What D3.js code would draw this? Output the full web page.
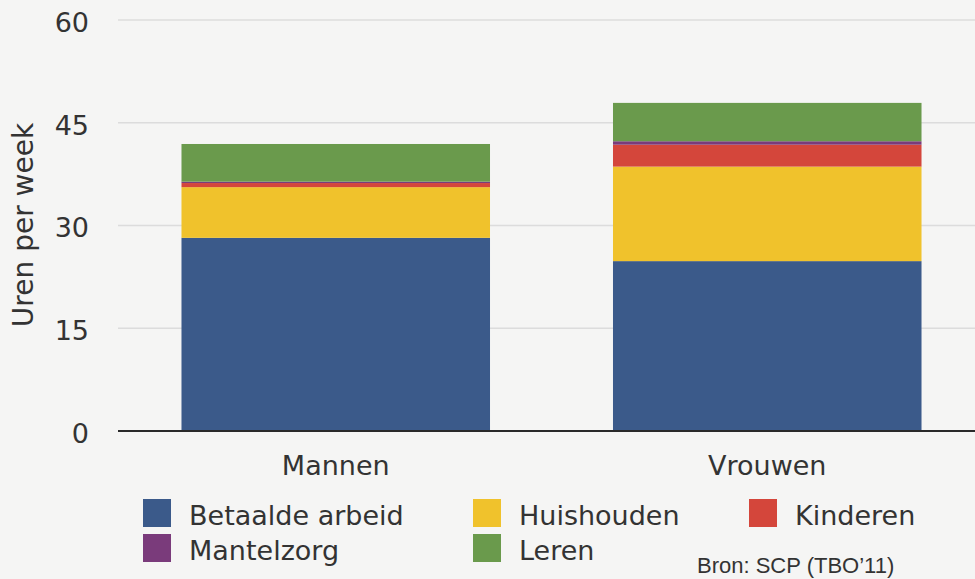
<!DOCTYPE html>
<html><head><meta charset="utf-8">
<script src="https://cdn.jsdelivr.net/npm/d3@7"></script>
<style>
html,body{margin:0;padding:0;background:#f5f5f4;}
svg{display:block;}
</style></head>
<body>
<svg id="chart" width="975" height="579"></svg>
<script>
const categories = ["Mannen", "Vrouwen"];
const seriesNames = ["Betaalde arbeid", "Huishouden", "Kinderen", "Mantelzorg", "Leren"];
const betaaldeArbeid = [28.2, 24.8];
const huishouden = [7.4, 13.8];
const kinderen = [0.6, 3.2];
const mantelzorg = [0.2, 0.5];
const leren = [5.5, 5.6];
const seriesColors = ["#3b5a8a", "#f0c22c", "#d4463b", "#7a3b7b", "#6a9a4c"];
const yTicks = [0, 15, 30, 45, 60];
const yTitle = "Uren per week";
const source = "Bron: SCP (TBO\u201911)";

const seriesValues = [betaaldeArbeid, huishouden, kinderen, mantelzorg, leren];
const rows = categories.map((c, i) => {
  const r = {cat: c};
  seriesNames.forEach((s, j) => r[s] = seriesValues[j][i]);
  return r;
});
const stacked = d3.stack().keys(seriesNames)(rows);

const svg = d3.select("#chart");
const font = "'DejaVu Sans', Verdana, sans-serif";
const textColor = "#333";

const y = d3.scaleLinear().domain([0, 60]).range([431, 20]);
const x = d3.scaleBand().domain(categories).range([120, 983]).paddingInner(0.285).paddingOuter(0.1425);
const color = d3.scaleOrdinal().domain(seriesNames).range(seriesColors);

// gridlines + tick labels
const yAxis = d3.axisLeft(y).tickValues(yTicks).tickSize(0).tickPadding(0);
const gy = svg.append("g").attr("transform", "translate(89,0)").call(yAxis);
gy.select(".domain").remove();
gy.selectAll("text").attr("font-family", font).attr("font-size", 27).attr("fill", textColor).attr("dy", "0.42em");

svg.append("g").selectAll("line").data(yTicks.filter(d => d > 0)).join("line")
  .attr("x1", 118).attr("x2", 975)
  .attr("y1", d => y(d)).attr("y2", d => y(d))
  .attr("stroke", "#dcdcdc").attr("stroke-width", 1.5);

// bars
svg.append("g").selectAll("g").data(stacked).join("g")
  .attr("fill", d => color(d.key))
  .selectAll("rect").data(d => d).join("rect")
  .attr("x", d => x(d.data.cat))
  .attr("width", x.bandwidth())
  .attr("y", d => y(d[1]))
  .attr("height", d => y(d[0]) - y(d[1]));

// baseline
svg.append("line").attr("x1", 118).attr("x2", 975).attr("y1", y(0)).attr("y2", y(0))
  .attr("stroke", "#2a2a2a").attr("stroke-width", 2);

// x labels
const xAxis = d3.axisBottom(x).tickSize(0).tickPadding(0);
const gx = svg.append("g").attr("transform", "translate(0,475)").call(xAxis);
gx.select(".domain").remove();
gx.selectAll("text").attr("font-family", font).attr("font-size", 27).attr("fill", textColor).attr("dy", 0);

// y title
svg.append("text").attr("transform", "translate(33,225) rotate(-90)")
  .attr("text-anchor", "middle").attr("font-family", font).attr("font-size", 28)
  .attr("fill", textColor).text(yTitle);

// legend
const legendPos = [[143, 499], [473, 499], [749, 499], [143, 534], [473, 534]];
const lg = svg.append("g").selectAll("g").data(seriesNames).join("g")
  .attr("transform", (d, i) => `translate(${legendPos[i][0]},${legendPos[i][1]})`);
lg.append("rect").attr("width", 28).attr("height", 28).attr("fill", d => color(d));
lg.append("text").attr("x", 46).attr("y", 26).attr("font-family", font).attr("font-size", 27)
  .attr("fill", textColor).text(d => d);

svg.append("text").attr("x", 697).attr("y", 573).attr("font-family", "'Liberation Sans', Arial, sans-serif")
  .attr("font-size", 22).attr("fill", textColor).text(source);
</script>
</body></html>
